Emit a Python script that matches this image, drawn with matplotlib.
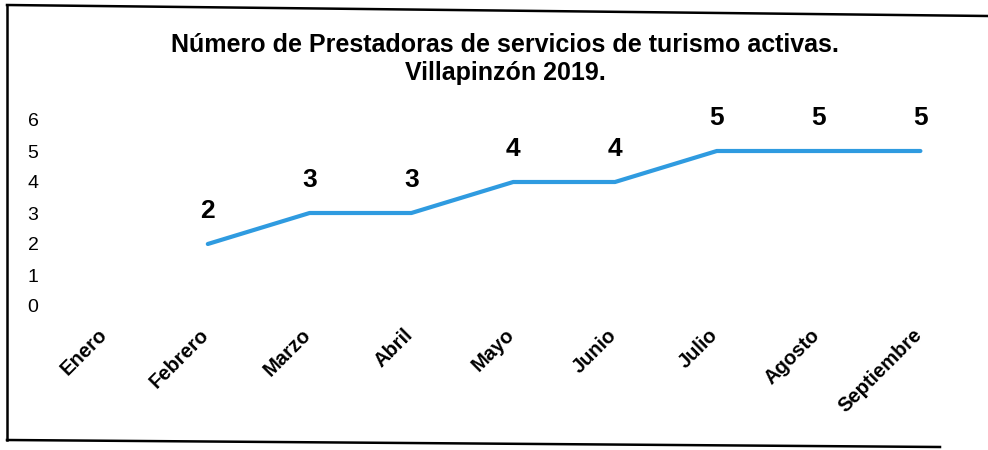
import matplotlib
matplotlib.use('Agg')

import matplotlib.pyplot as plt
from matplotlib.lines import Line2D
import matplotlib.transforms as mtransforms
import numpy as np

# datos
meses = ['Enero', 'Febrero', 'Marzo', 'Abril', 'Mayo', 'Junio', 'Julio', 'Agosto', 'Septiembre']
prestadoras = [np.nan, 2, 3, 3, 4, 4, 5, 5, 5]
yticks = [0, 1, 2, 3, 4, 5, 6]
titulo = 'Número de Prestadoras de servicios de turismo activas.\nVillapinzón 2019.'

W, H = 988, 450
plt.rcParams['font.family'] = ['Liberation Sans', 'DejaVu Sans']

fig = plt.figure(figsize=(W / 100, H / 100), dpi=100)

# ejes: Enero en x~106, paso ~101.8 px; y=0 en 306, 31 px por unidad
paso = 101.8
x0 = 106 - paso / 2
ax = fig.add_axes([x0 / W, (H - 306) / H, paso * 9 / W, 31 * 6 / H])
x = np.arange(len(meses))
ax.plot(x, prestadoras, color='#2F9BE0', lw=3, solid_capstyle='round')

for xi, v in zip(x, prestadoras):
    if not np.isnan(v):
        ax.annotate(f'{int(v)}', (xi, v), xytext=(0, 15), textcoords='offset points',
                    ha='center', va='bottom', fontsize=19, fontweight='bold')

ax.set_xlim(-0.5, len(meses) - 0.5)
ax.set_ylim(0, 6)
ax.set_yticks(yticks)
ax.tick_params(axis='y', length=0, pad=12, labelsize=14)
ax.set_xticks(x)
ax.set_xticklabels(meses, rotation=45, ha='right', fontweight='bold', fontsize=14.5)
ax.tick_params(axis='x', length=0, pad=14)
# pequeño corrimiento a la derecha de las etiquetas del eje x
offset = mtransforms.ScaledTranslation(5 / 100, 0, fig.dpi_scale_trans)
for lbl in ax.get_xticklabels():
    lbl.set_transform(lbl.get_transform() + offset)
for s in ax.spines.values():
    s.set_visible(False)

fig.text(505 / W, 1 - 59 / H, titulo, ha='center', va='center', fontsize=18,
         fontweight='bold', linespacing=1.2)

# marco escaneado
def px(xp, yp):
    return xp / W, 1 - yp / H

for (a, b), (c, d) in [((7, 5), (7, 440)), ((7, 5), (988, 16)), ((7, 440), (940, 447))]:
    (xa, ya), (xb, yb) = px(a, b), px(c, d)
    fig.add_artist(Line2D([xa, xb], [ya, yb], color='black', lw=1.8))

fig.savefig('out.png', dpi=100)
